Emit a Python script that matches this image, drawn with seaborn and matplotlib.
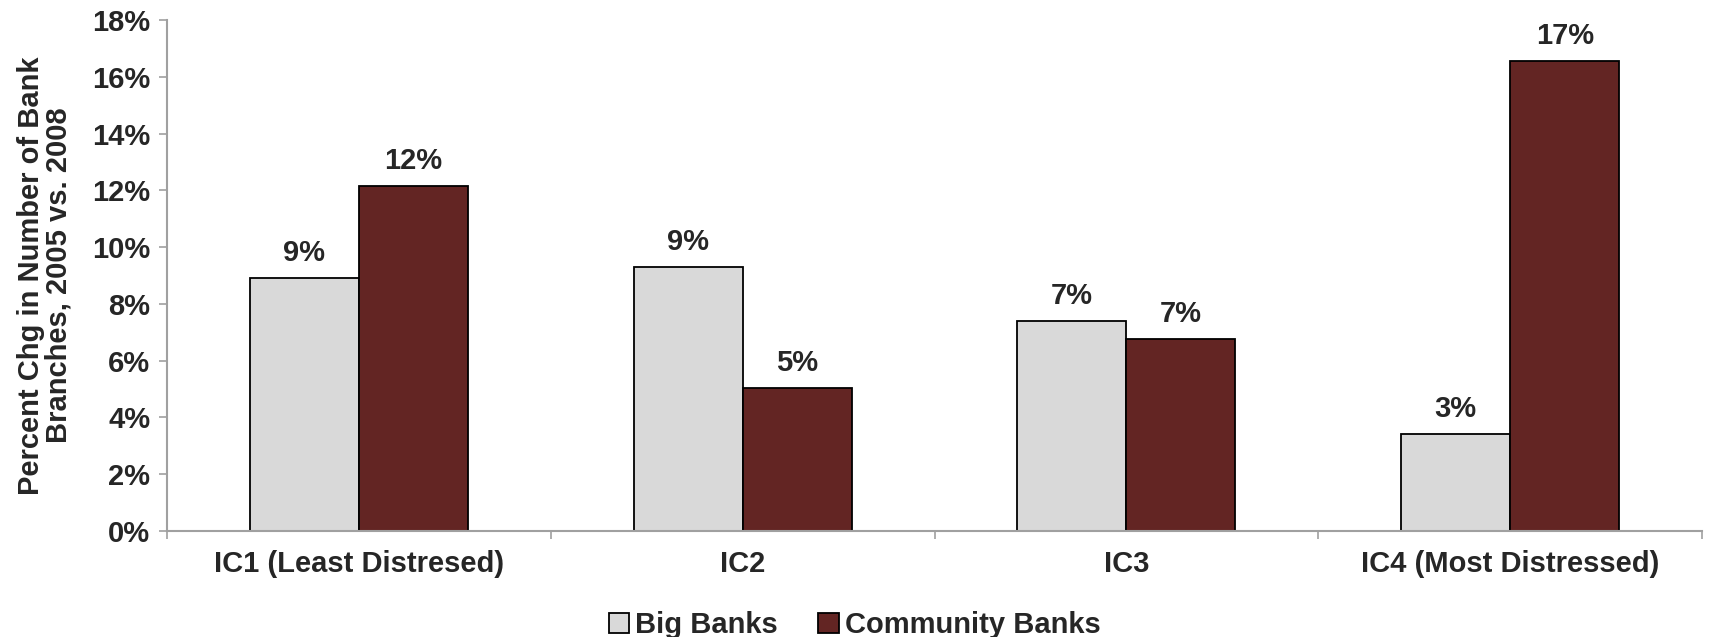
import matplotlib
matplotlib.use("Agg")
import matplotlib.pyplot as plt
import seaborn as sns
import pandas as pd
import numpy as np
from matplotlib.ticker import FixedLocator, FuncFormatter

categories = ["IC1 (Least Distresed)", "IC2", "IC3", "IC4 (Most Distressed)"]
series = ["Big Banks", "Community Banks"]
big_banks = [8.9, 9.3, 7.4, 3.4]
community_banks = [12.15, 5.05, 6.75, 16.55]
big_labels = ["9%", "9%", "7%", "3%"]
community_labels = ["12%", "5%", "7%", "17%"]
colors = ["#D9D9D9", "#632523"]

sns.set_style("white")
plt.rcParams["font.family"] = ["Liberation Sans", "DejaVu Sans"]
plt.rcParams["font.weight"] = "bold"

FS = 21

df = pd.DataFrame({
    "Category": categories * 2,
    "Series": [series[0]] * 4 + [series[1]] * 4,
    "Value": big_banks + community_banks,
})

fig = plt.figure(figsize=(17.09, 6.37), dpi=100)
ax = fig.add_axes([0.0977, 0.1664, 0.8983, 0.8022])

sns.barplot(data=df, x="Category", y="Value", hue="Series", hue_order=series,
            order=categories, palette=colors, saturation=1, edgecolor="black",
            linewidth=1.3, width=0.568, gap=0, ax=ax, legend=True)

for cont, labs in zip(ax.containers, [big_labels, community_labels]):
    ax.bar_label(cont, labels=labs, padding=8, fontsize=FS, fontweight="bold")

ax.set_ylim(0, 18)
ax.set_xlim(-0.5, 3.5)
ax.yaxis.set_major_locator(FixedLocator(np.arange(0, 19, 2)))
ax.yaxis.set_major_formatter(FuncFormatter(lambda v, p: f"{int(v)}%"))
ax.tick_params(axis="y", labelsize=FS, length=6, width=1.2, color="#A0A0A0",
               direction="out", left=True, pad=6)
ax.set_xticks(range(4))
ax.set_xticklabels(categories, fontsize=FS, fontweight="bold")
ax.tick_params(axis="x", which="major", length=0, pad=14)
ax.set_xticks([-0.5, 0.5, 1.5, 2.5, 3.5], minor=True)
ax.tick_params(axis="x", which="minor", length=6, width=1.2, color="#A0A0A0",
               direction="out", bottom=True)
for lab in ax.get_yticklabels():
    lab.set_fontweight("bold")

for s in ["top", "right"]:
    ax.spines[s].set_visible(False)
for s in ["left", "bottom"]:
    ax.spines[s].set_color("#A0A0A0")
    ax.spines[s].set_linewidth(1.5)

ax.set_xlabel("")
ax.set_ylabel("Percent Chg in Number of Bank\nBranches, 2005 vs. 2008",
              fontsize=FS, fontweight="bold", labelpad=14, linespacing=1.0)

handles, labels = ax.get_legend_handles_labels()
ax.legend(handles, labels, loc="lower center",
          bbox_to_anchor=(0.5, -0.045), bbox_transform=fig.transFigure,
          ncol=2, frameon=False, prop={"weight": "bold", "size": FS},
          handlelength=0.7, handleheight=0.7, handletextpad=0.2,
          columnspacing=1.4)

fig.savefig("out.png", dpi=100)
